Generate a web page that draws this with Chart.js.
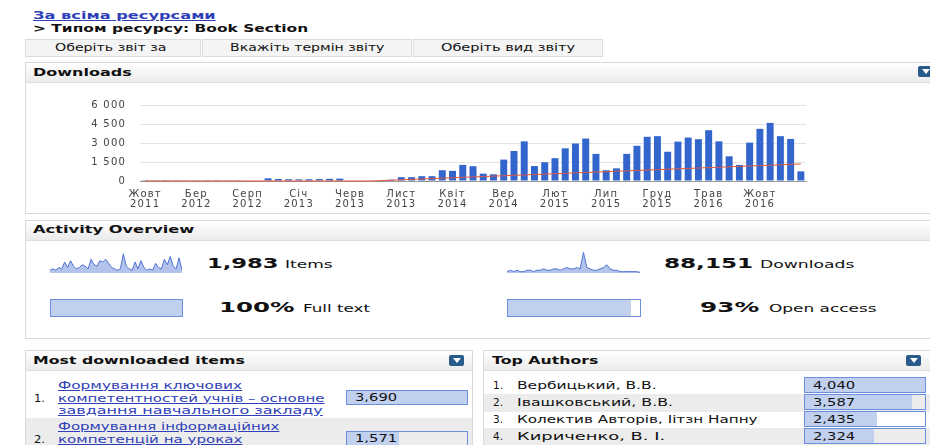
<!DOCTYPE html>
<html>
<head>
<meta charset="utf-8">
<script src="https://cdn.jsdelivr.net/npm/chart.js@4"></script>
<style>
body{margin:0;width:930px;height:445px;overflow:hidden;background:#fff;font-family:"DejaVu Sans",Verdana,sans-serif;color:#111;position:relative}
.a{position:absolute;white-space:nowrap}
.t{position:absolute;white-space:nowrap;transform-origin:0 50%}
.link{color:#2f3fb8;text-decoration:underline}
.btn{position:absolute;top:39px;height:16px;background:#f4f4f4;border:1px solid #dcdcdc}
.panel{position:absolute;border:1px solid #d9d9d9;background:#fff;overflow:hidden}
.head{height:19px;background:linear-gradient(#ffffff,#ebebeb);border-bottom:1px solid #dedede}
.icon{position:absolute;width:15px;height:11px;background:#285a8a;border-radius:2px}
.icon:after{content:"";position:absolute;left:4px;top:3px;border-left:4px solid transparent;border-right:4px solid transparent;border-top:5px solid #fff}
.prog{position:absolute;border:1px solid #6b8fdc}
.prog div{height:100%;background:#c1d0ef}
.gray{position:absolute;background:#ececec}
</style>
</head>
<body>

<div class="btn" style="left:25px;width:174px"></div>
<div class="btn" style="left:202px;width:208px"></div>
<div class="btn" style="left:413px;width:188px"></div>

<div class="panel" style="left:25px;top:62px;width:915px;height:150px"><div class="head"></div></div>
<div class="icon" style="left:918px;top:66px"></div>
<div class="a" style="left:25px;top:82px;width:800px;height:130px"><canvas id="dl"></canvas></div>

<div class="panel" style="left:25px;top:220px;width:915px;height:117px"><div class="head"></div></div>
<div class="a" style="left:50px;top:251px;width:132px;height:22px"><canvas id="sp1"></canvas></div>
<div class="a" style="left:507px;top:251px;width:133px;height:22px"><canvas id="sp2"></canvas></div>
<div class="prog" style="left:50px;top:299px;width:131px;height:16px"><div style="width:100%"></div></div>
<div class="prog" style="left:507px;top:299px;width:132px;height:16px"><div style="width:93%"></div></div>

<div class="panel" style="left:25px;top:350px;width:446px;height:100px">
  <div class="head"></div>
  <div class="gray" style="left:0;top:67px;width:446px;height:40px"></div>
</div>
<div class="icon" style="left:449px;top:355px"></div>
<div class="prog" style="left:346px;top:390px;width:120px;height:13px"><div style="width:100%"></div></div>
<div class="prog" style="left:346px;top:431px;width:120px;height:13px"><div style="width:43%"></div></div>

<div class="panel" style="left:483px;top:350px;width:450px;height:100px">
  <div class="head"></div>
  <div class="gray" style="left:0;top:43px;width:450px;height:18px"></div>
  <div class="gray" style="left:0;top:77px;width:450px;height:18px"></div>
</div>
<div class="icon" style="left:906px;top:355px"></div>
<div id="txt"></div>

<script>
// Завантаження по місяцях, Жовт 2011 – Лют 2017
const monthNames = ["Січ","Лют","Бер","Квіт","Трав","Черв","Лип","Серп","Вер","Жовт","Лист","Груд"];
const downloads = [
  10,15,10,20,25,20,15,20,25,20,30,35,
  210,160,140,130,140,150,170,190,40,30,35,60,
  100,300,300,380,380,850,800,1270,1170,580,530,1690,
  2370,3130,1180,1480,1800,2580,2960,3350,2140,850,1000,2140,
  2780,3490,3540,2310,3110,3430,3300,4010,3130,1950,1270,3030,
  4120,4590,3540,3320,760
];
const trend = [
  0,0,0,0,0,0,0,0,0,0,0,0,
  0,0,0,0,0,0,0,0,0,0,0,30,
  65,95,130,160,190,225,255,290,320,350,385,415,
  450,480,510,545,575,610,640,670,705,735,770,800,
  830,865,895,930,960,990,1025,1055,1090,1120,1150,1185,
  1215,1250,1280,1310,1345
];
const yTicks = [0,1500,3000,4500,6000];

// спарклайни
const itemsSpark = [2,3,2,4,3,8,4,9,5,3,4,6,5,3,10,6,5,9,8,10,7,4,3,2,3,14,5,3,2,8,3,9,4,2,3,2,7,4,3,10,6,12,5,3,11,2];
const dlSpark = [1,2,1,2,1,1,2,2,1,2,2,3,2,2,3,3,2,3,4,3,3,4,3,15,4,3,2,2,3,4,6,3,2,2,1,1,1,1,1,1,0.5];

const topItems = [["Формування ключових","компетентностей учнів – основне","завдання навчального закладу"],["Формування інформаційних","компетенцій на уроках"]];
const topItemDl = [3690,1571];
const authors = ["Вербицький, В.В.","Івашковський, В.В.","Колектив Авторів, Іітзн Напну","Кириченко, В. І."];
const authorDl = [4040,3587,2435,2324];

// текст: x, центр y, ширина в референсі, розмір, жирність
const box = document.getElementById('txt');
function put(x, cy, w, size, bold, text, cls) {
  const d = document.createElement('div');
  d.className = 't' + (cls ? ' ' + cls : '');
  d.textContent = text;
  d.style.fontSize = size + 'px';
  d.style.lineHeight = Math.round(size * 1.2) + 'px';
  d.style.fontWeight = bold ? 'bold' : 'normal';
  d.style.left = x + 'px';
  d.style.top = (cy - Math.round(size * 1.2) / 2) + 'px';
  box.appendChild(d);
  if (w) d.style.transform = 'scaleX(' + (w / d.offsetWidth) + ')';
}

put(33, 15, 182, 10.5, true, 'За всіма ресурсами', 'link');
put(33, 28, 275, 10.5, true, '> Типом ресурсу: Book Section');
put(55, 47, 112, 10.5, false, 'Оберіть звіт за');
put(230, 47, 154, 10.5, false, 'Вкажіть термін звіту');
put(441, 47, 134, 10.5, false, 'Оберіть вид звіту');
put(33, 72, 99, 11, true, 'Downloads');
put(33, 229, 161, 11, true, 'Activity Overview');
put(33, 360, 212, 11, true, 'Most downloaded items');
put(492, 360, 106, 11, true, 'Top Authors');
put(207, 263, 71, 14, true, '1,983');
put(285, 264, 47, 10.5, false, 'Items');
put(664, 263, 89, 14, true, '88,151');
put(760, 264, 95, 10.5, false, 'Downloads');
put(219, 307, 75, 14, true, '100%');
put(303, 308, 67, 10.5, false, 'Full text');
put(700, 307, 60, 14, true, '93%');
put(769, 308, 108, 10.5, false, 'Open access');

const itemW = [[184,267,265],[221,185]];
const itemY = [[385,398,410],[426,439]];
const numY = [398,439];
for (let i = 0; i < topItems.length; i++) {
  put(34, numY[i], 11, 10.5, false, (i + 1) + '.');
  topItems[i].forEach((line, j) => put(58, itemY[i][j], itemW[i][j], 10.5, false, line, 'link'));
  put(355, numY[i] - 1, 42, 10.5, false, topItemDl[i].toLocaleString('en-US'));
}
const authW = [140,156,240,148];
for (let i = 0; i < authors.length; i++) {
  const cy = 385 + i * 17;
  put(493, cy, 10, 10.5, false, (i + 1) + '.');
  put(517, cy, authW[i], 10.5, false, authors[i]);
  put(813, cy, 42, 10.5, false, authorDl[i].toLocaleString('en-US'));
  const p = document.createElement('div');
  p.className = 'prog';
  p.style.cssText = 'left:804px;top:' + (cy - 8) + 'px;width:120px;height:14px';
  p.innerHTML = '<div style="width:' + (authorDl[i] / authorDl[0] * 100) + '%"></div>';
  box.insertBefore(p, box.firstChild);
}

let categories = [];
let m = 9, y = 2011;
for (let i = 0; i < downloads.length; i++) {
  categories.push([monthNames[m], String(y)]);
  m++;
  if (m === 12) { m = 0; y++; }
}

const tickFont = { family: 'DejaVu Sans', size: 10, lineHeight: 1.0 };

new Chart(document.getElementById('dl'), {
  type: 'bar',
  data: {
    labels: categories,
    datasets: [{
      type: 'line',
      data: trend,
      borderColor: '#e0563f',
      borderWidth: 1,
      pointRadius: 0,
      clip: false,
      order: 0
    }, {
      data: downloads,
      backgroundColor: '#3366cc',
      barPercentage: 0.68,
      categoryPercentage: 1,
      order: 1
    }]
  },
  options: {
    responsive: true,
    maintainAspectRatio: false,
    animation: false,
    layout: { padding: { top: 23, right: 19, left: 0, bottom: 0 } },
    plugins: { legend: { display: false }, tooltip: { enabled: false } },
    scales: {
      x: {
        grid: { display: false },
        border: { color: '#999' },
        afterFit: function(s) { s.height = 31; },
        ticks: {
          autoSkip: false, maxRotation: 0, padding: 0,
          color: '#444', font: tickFont,
          callback: function(v, i) { return i % 5 === 0 ? categories[i] : ''; }
        }
      },
      y: {
        min: 0, max: 6000,
        afterFit: function(s) { s.width = 115; },
        afterBuildTicks: function(s) { s.ticks = yTicks.map(v => ({ value: v })); },
        grid: { color: '#e2e2e2', drawTicks: false },
        border: { display: false },
        ticks: {
          padding: 14, color: '#444', font: tickFont,
          callback: v => v.toLocaleString('uk-UA').replace(/\s/g, ' ')
        }
      }
    }
  },
  plugins: [{
    beforeLayout: function(c) { c.ctx.letterSpacing = '1.2px'; }
  }]
});

function spark(id, vals) {
  new Chart(document.getElementById(id), {
    type: 'line',
    data: {
      labels: vals.map((v, i) => i),
      datasets: [{ data: vals, borderColor: '#4d72d4', borderWidth: 1, backgroundColor: '#b4c3ec', fill: true, pointRadius: 0, tension: 0 }]
    },
    options: {
      responsive: true, maintainAspectRatio: false, animation: false,
      plugins: { legend: { display: false }, tooltip: { enabled: false } },
      scales: {
        x: { display: false },
        y: { display: false, min: 0, max: 16 }
      }
    },
    plugins: [{
      afterDraw: function(c) {
        const ctx = c.ctx, a = c.chartArea;
        ctx.strokeStyle = '#666'; ctx.lineWidth = 1;
        ctx.beginPath(); ctx.moveTo(a.left, a.bottom + 0.5); ctx.lineTo(a.right, a.bottom + 0.5); ctx.stroke();
      }
    }]
  });
}
spark('sp1', itemsSpark);
spark('sp2', dlSpark);
</script>
</body>
</html>
